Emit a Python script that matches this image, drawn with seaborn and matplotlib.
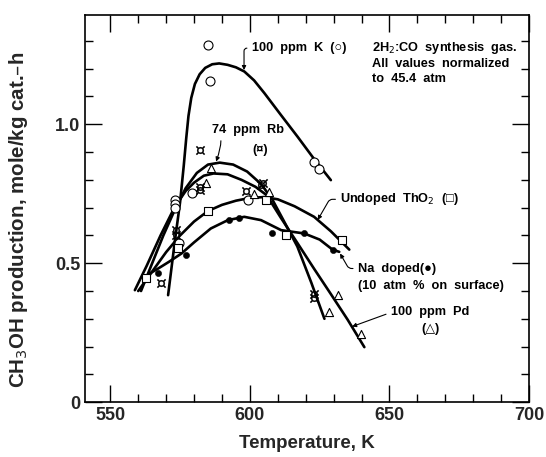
import pandas as pd
import seaborn as sns
import matplotlib
matplotlib.use("Agg")
import matplotlib.pyplot as plt
from matplotlib.ticker import MultipleLocator

# fitted curves (temperature K, mole/kg cat.-h)
k_curve_t = [570.7, 573.0, 575.0, 576.3, 577.2, 578.0, 579.0, 580.3, 582.0, 584.0, 586.5, 589.0, 592.0, 595.0, 598.0, 601.5, 605.2, 611.0, 617.1, 623.0, 629.0]
k_curve_v = [0.385, 0.57, 0.72, 0.85, 0.95, 1.03, 1.095, 1.145, 1.18, 1.203, 1.216, 1.219, 1.214, 1.205, 1.19, 1.158, 1.112, 1.035, 0.955, 0.875, 0.799]

rb_curve_t = [561, 565, 569, 573, 577, 581, 585, 589.2, 594, 599, 604, 608, 612, 617, 622, 626.7]
rb_curve_v = [0.40, 0.50, 0.60, 0.69, 0.77, 0.825, 0.855, 0.862, 0.855, 0.83, 0.785, 0.73, 0.655, 0.56, 0.43, 0.30]

pd_curve_t = [558.8, 563, 568, 573.1, 577, 580, 583.5, 587, 592, 597, 602, 606, 611, 617, 623, 629, 635, 641]
pd_curve_v = [0.403, 0.49, 0.60, 0.703, 0.76, 0.79, 0.815, 0.823, 0.82, 0.80, 0.775, 0.745, 0.665, 0.573, 0.48, 0.389, 0.297, 0.198]

tho2_curve_t = [560, 565, 570, 575, 580, 585, 590, 595, 600, 605, 610, 616, 623, 629, 635.6]
tho2_curve_v = [0.40, 0.47, 0.54, 0.60, 0.65, 0.688, 0.71, 0.725, 0.735, 0.738, 0.73, 0.705, 0.667, 0.615, 0.549]

na_curve_t = [563.6, 567, 571, 575.5, 580, 586, 592.1, 598, 604, 611.2, 619.5, 625, 629.6, 632]
na_curve_v = [0.46, 0.48, 0.505, 0.535, 0.575, 0.625, 0.655, 0.667, 0.655, 0.619, 0.607, 0.585, 0.549, 0.541]

# measured points
k_pts_t = [585.0, 585.6, 623.1, 624.9, 573.1, 573.1, 573.1, 579.3, 599.3, 574.5]
k_pts_v = [1.285, 1.157, 0.865, 0.839, 0.729, 0.712, 0.697, 0.751, 0.729, 0.573]

tho2_pts_t = [562.7, 574.3, 585.1, 605.8, 633.0, 613.0]
tho2_pts_v = [0.448, 0.553, 0.688, 0.729, 0.583, 0.601]

rb_pts_t = [582.3, 582.3, 582.3, 573.7, 573.7, 598.7, 604.0, 604.6, 623.0, 623.0, 568.3]
rb_pts_v = [0.909, 0.775, 0.763, 0.619, 0.600, 0.760, 0.781, 0.787, 0.39, 0.375, 0.429]

pd_pts_t = [586.2, 584.4, 607.0, 601.5, 631.4, 628.4, 639.8]
pd_pts_v = [0.841, 0.787, 0.757, 0.748, 0.384, 0.324, 0.246]

na_pts_t = [567.0, 577.0, 592.5, 596.1, 607.9, 619.5, 629.6]
na_pts_v = [0.465, 0.529, 0.657, 0.664, 0.609, 0.607, 0.549]

x_ticks = [550, 600, 650, 700]
y_ticks = [0, 0.5, 1.0]
y_tick_labels = ["0", "0.5", "1.0"]

sns.set_theme(style="ticks")
plt.rcParams["font.family"] = ["Liberation Sans", "DejaVu Sans"]
plt.rcParams["mathtext.fontset"] = "dejavusans"

fig = plt.figure(figsize=(5.46, 4.57), dpi=100)
ax = fig.add_axes([0.156, 0.12, 0.813, 0.847])

# curves
for t, v in [(k_curve_t, k_curve_v), (rb_curve_t, rb_curve_v), (pd_curve_t, pd_curve_v),
             (tho2_curve_t, tho2_curve_v), (na_curve_t, na_curve_v)]:
    sns.lineplot(x=t, y=v, ax=ax, color="black", lw=1.9, sort=False, estimator=None)

# points
sns.scatterplot(x=k_pts_t, y=k_pts_v, ax=ax, marker="o", s=42, facecolor="white",
                edgecolor="black", linewidth=0.8, zorder=3)
sns.scatterplot(x=tho2_pts_t, y=tho2_pts_v, ax=ax, marker="s", s=32, facecolor="white",
                edgecolor="black", linewidth=0.8, zorder=3)
sns.scatterplot(x=pd_pts_t, y=pd_pts_v, ax=ax, marker="^", s=34, facecolor="white",
                edgecolor="black", linewidth=0.8, zorder=3)
sns.scatterplot(x=na_pts_t, y=na_pts_v, ax=ax, marker="o", s=20, color="black",
                edgecolor="black", zorder=3)
sns.scatterplot(x=rb_pts_t, y=rb_pts_v, ax=ax, marker="$¤$", s=42, color="black",
                edgecolor="black", linewidth=0.2, zorder=3)

txt = dict(fontsize=9.2, fontweight="bold", color="black")
arrow = dict(arrowstyle="-|>", color="black", lw=0.8, mutation_scale=6, shrinkA=1, shrinkB=0)

ax.annotate("100  ppm  K  (○)", xy=(597.9, 1.195), xytext=(600.6, 1.274), ha="left", va="center",
            arrowprops=dict(arrow, connectionstyle="angle,angleA=180,angleB=90,rad=3", relpos=(0, 0.5)), **txt)
ax.text(643.9, 1.305, "2H$_2$:CO  synthesis  gas.\nAll  values  normalized\nto  45.4  atm",
        ha="left", va="top", linespacing=1.3, **txt)
ax.annotate("74  ppm  Rb", xy=(587.9, 0.866), xytext=(586.3, 0.979), ha="left", va="center",
            arrowprops=dict(arrow, connectionstyle="angle3,angleA=180,angleB=70", relpos=(0, 0.5)), **txt)
ax.text(603.6, 0.907, "(¤)", ha="center", va="center", **txt)
ax.annotate("Undoped  ThO$_2$  (□)", xy=(624.3, 0.656), xytext=(632.3, 0.73), ha="left", va="center",
            arrowprops=dict(arrow, connectionstyle="angle,angleA=180,angleB=60,rad=3", relpos=(0, 0.5)), **txt)
ax.annotate("Na  doped(●)", xy=(632.3, 0.535), xytext=(638.6, 0.481), ha="left", va="center",
            arrowprops=dict(arrow, connectionstyle="angle,angleA=180,angleB=-60,rad=3", relpos=(0, 0.5)), **txt)
ax.text(638.6, 0.417, "(10  atm  %  on  surface)", ha="left", va="center", **txt)
ax.annotate("100  ppm  Pd", xy=(636.6, 0.272), xytext=(650.4, 0.323), ha="left", va="center",
            arrowprops=dict(arrow, connectionstyle="angle,angleA=180,angleB=20,rad=3", relpos=(0, 0.5)), **txt)
ax.text(664.6, 0.262, "(△)", ha="center", va="center", **txt)

ax.set_xlim(541, 700)
ax.set_ylim(0, 1.393)
ax.set_xticks(x_ticks)
ax.set_yticks(y_ticks)
ax.set_yticklabels(y_tick_labels)
ax.xaxis.set_minor_locator(MultipleLocator(10))
ax.yaxis.set_minor_locator(MultipleLocator(0.1))
ax.tick_params(which="both", direction="in", top=True, right=True, color="black",
               labelsize=13, width=1.0)
ax.tick_params(which="major", length=12)
ax.tick_params(which="minor", length=6)
for lab in ax.get_xticklabels() + ax.get_yticklabels():
    lab.set_fontweight("bold")
for sp in ax.spines.values():
    sp.set_color("black")
    sp.set_linewidth(1.2)

ax.set_xlabel("Temperature, K", fontsize=13.5, fontweight="bold")
ax.set_ylabel("CH$_3$OH production, mole/kg cat.–h", fontsize=14.8, fontweight="bold")
ax.yaxis.set_label_coords(-0.125, 0.47)
ax.xaxis.set_label_coords(0.5, -0.085)

fig.savefig("out.png", dpi=100)
